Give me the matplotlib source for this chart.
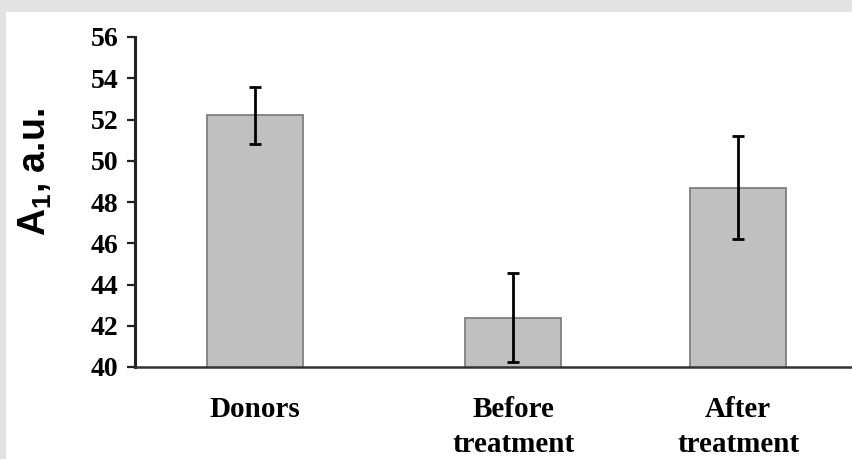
import matplotlib.pyplot as plt
from matplotlib.patches import Rectangle

# Group means and standard deviations
groups = ['Donors', 'Before\ntreatment', 'After\ntreatment']
means = [52.2, 42.4, 48.7]
errors = [1.4, 2.15, 2.5]

fig = plt.figure(figsize=(8.53, 4.59), dpi=100, facecolor='#e3e3e3')

# White panel inside the grey frame
fig.patches.append(Rectangle((6 / 853, 0), 1, 1 - 12 / 459, transform=fig.transFigure,
                             facecolor='white', edgecolor='none', zorder=-10))

ax = fig.add_axes([135 / 853, 92 / 459, 718 / 853, 330 / 459])
ax.set_facecolor('none')

# Bar centres along the category axis
xpos = [0.5, 1.58, 2.52]
ax.bar(xpos, means, width=0.4, color='#c0c0c0', edgecolor='#7f7f7f', linewidth=1.3)
ax.errorbar(xpos, means, yerr=errors, fmt='none', ecolor='black', elinewidth=2,
            capsize=4.5, capthick=2)

ax.set_xlim(0, 3)
ax.set_ylim(40, 56)
ax.set_yticks(range(40, 57, 2))
ax.set_xticks(xpos)
ax.set_xticklabels(groups, fontfamily='Liberation Serif', fontweight='bold',
                   fontsize=21, linespacing=1.38)
for lbl in ax.get_yticklabels():
    lbl.set_fontfamily('Liberation Serif')
    lbl.set_fontweight('bold')
    lbl.set_fontsize(20)

ax.tick_params(axis='x', length=0, pad=21)
ax.tick_params(axis='y', direction='out', length=6, width=1.6, pad=6, color='#222222')

ax.spines['top'].set_visible(False)
ax.spines['right'].set_visible(False)
ax.spines['left'].set_linewidth(2.2)
ax.spines['left'].set_color('#222222')
ax.spines['bottom'].set_linewidth(1.8)
ax.spines['bottom'].set_color('#333333')

fig.text(35 / 853, 1 - 172 / 459, r'A$_\mathregular{1}$, a.u.', rotation=90,
         ha='center', va='center', fontfamily='Liberation Sans', fontweight='bold',
         fontsize=27)

plt.savefig('out.png', dpi=100, facecolor=fig.get_facecolor())
